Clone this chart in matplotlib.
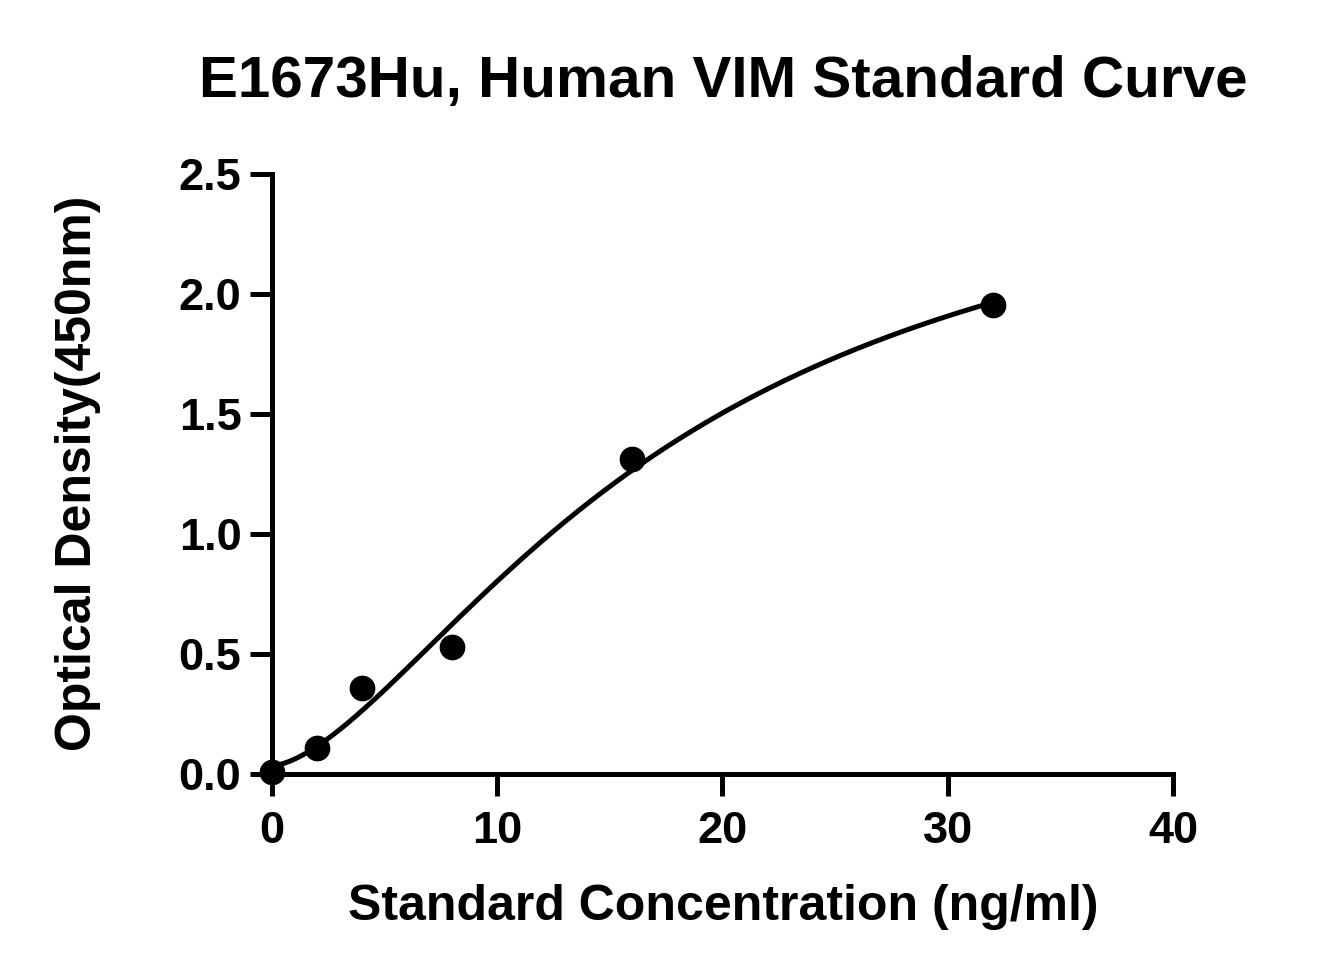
import numpy as np
import matplotlib
matplotlib.use("Agg")
import matplotlib.pyplot as plt

concentration = [0, 2, 4, 8, 16, 32]
od_450 = [0.008, 0.108, 0.358, 0.529, 1.3125, 1.954]
x_ticks = [0, 10, 20, 30, 40]
y_ticks = [0.0, 0.5, 1.0, 1.5, 2.0, 2.5]

title = "E1673Hu, Human VIM Standard Curve"
xlabel = "Standard Concentration (ng/ml)"
ylabel = "Optical Density(450nm)"


def four_pl(x, p):
    a, b, c, d = p
    return d + (a - d) / (1.0 + (np.asarray(x, float) / c) ** b)


def fit_4pl(x, y):
    x = np.asarray(x, float)
    y = np.asarray(y, float)
    p = np.array([0.0, 1.8, 16.0, 2.6])
    lam = 1e-2
    for _ in range(500):
        r = y - four_pl(x, p)
        J = np.zeros((len(x), 4))
        for k in range(4):
            dp = np.zeros(4)
            h = 1e-6 * max(1.0, abs(p[k]))
            dp[k] = h
            J[:, k] = (four_pl(x, p + dp) - four_pl(x, p - dp)) / (2 * h)
        A = J.T @ J
        g = J.T @ r
        step = np.linalg.solve(A + lam * np.diag(np.diag(A) + 1e-12), g)
        pn = p + step
        if pn[2] > 0 and pn[1] > 0 and np.sum((y - four_pl(x, pn)) ** 2) < np.sum(r ** 2):
            p = pn
            lam *= 0.5
        else:
            lam *= 4
    return p


params = fit_4pl(concentration, od_450)

plt.rcParams["font.family"] = ["Liberation Sans", "DejaVu Sans"]
plt.rcParams["font.weight"] = "bold"

fig = plt.figure(figsize=(13.23, 9.75), dpi=100)
ax = fig.add_axes([0.2056, 0.2062, 0.8866 - 0.2056, 0.8215 - 0.2062])

xs = np.linspace(0, max(concentration), 400)
ax.plot(xs, four_pl(xs, params), color="black", lw=3.6, zorder=2)
ax.plot(concentration, od_450, "o", color="black", ms=17.5, zorder=3, clip_on=False)

ax.set_xlim(0, 40)
ax.set_ylim(0, 2.5)
ax.set_xticks(x_ticks)
ax.set_yticks(y_ticks)
ax.set_xticklabels([str(t) for t in x_ticks])
ax.set_yticklabels([f"{t:.1f}" for t in y_ticks])

for s in ["top", "right"]:
    ax.spines[s].set_visible(False)
for s in ["left", "bottom"]:
    ax.spines[s].set_linewidth(3.6)
ax.tick_params(axis="both", width=3.6, length=16, labelsize=32.5)
ax.tick_params(axis="x", pad=11)
ax.tick_params(axis="y", pad=6)
for lab in ax.get_xticklabels() + ax.get_yticklabels():
    lab.set_fontweight("bold")

fig.text(0.547, 0.0564, xlabel, fontsize=36, fontweight="bold", ha="center", va="baseline")
fig.text(0.059, 0.5144, ylabel, fontsize=36, fontweight="bold", ha="center", va="center",
         rotation=90)
fig.text(0.547, 0.9005, title, fontsize=42, fontweight="bold", ha="center", va="baseline")

fig.savefig("out.png", dpi=100)
